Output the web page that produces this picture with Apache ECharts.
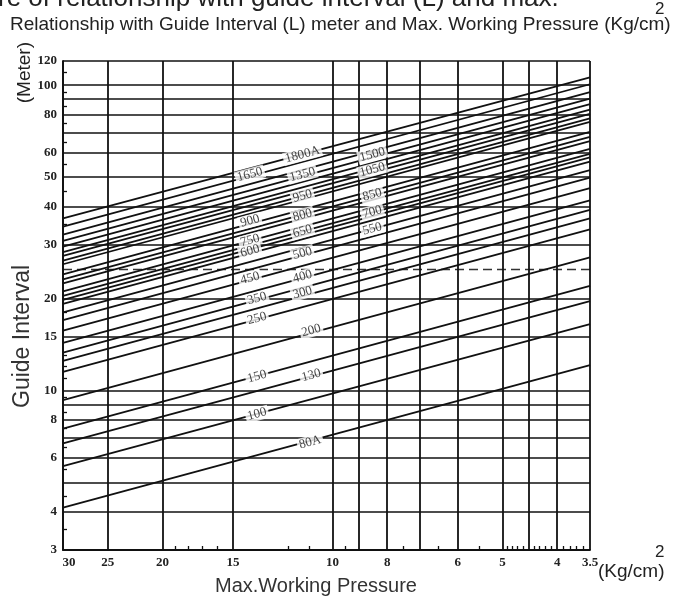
<!DOCTYPE html>
<html>
<head>
<meta charset="utf-8">
<script src="https://cdn.jsdelivr.net/npm/echarts@6/dist/echarts.min.js"></script>
<style>
html, body { margin: 0; padding: 0; background: #fff; }
#chart { width: 678px; height: 600px; }
</style>
</head>
<body>
<div id="chart"></div>
<script>
// pressure axis (Kg/cm2), drawn reversed
var pressureLabels = [30, 25, 20, 15, 10, 8, 6, 5, 4, 3.5];
var pressureGrid = [30, 25, 20, 15, 10, 9, 8, 7, 6, 5, 4.5, 4, 3.5];
var pressureMinor = [19, 18, 17, 16, 12, 11, 9.5, 7.5, 6.5, 5.5, 4.9, 4.8, 4.7, 4.6, 4.4, 4.3, 4.2, 4.1, 3.9, 3.8, 3.7, 3.6];

// guide interval axis (meter)
var lengthLabels = [3, 4, 6, 8, 10, 15, 20, 30, 40, 50, 60, 80, 100, 120];
var lengthGrid = [3, 4, 5, 6, 7, 8, 9, 10, 15, 20, 30, 40, 50, 60, 70, 80, 90, 100, 120];
var lengthDashed = [25];
var lengthMinor = [110, 95, 85, 75, 65, 55, 45, 35, 18, 13, 12, 11, 9.5, 8.5, 7.5, 6.5, 5.5, 4.5, 3.5];

// pipe sizes with guide interval (m) at 30 and at 3.5 Kg/cm2
var sizes = ['80A', '100', '130', '150', '200', '250', '300', '350', '400', '450', '500', '550', '600', '650',
  '700', '750', '800', '850', '900', '950', '1000', '1050', '1100', '1200', '1350', '1500', '1650', '1800A'];
var intervalAt30 = [4.13, 5.65, 6.7, 7.5, 9.3, 11.5, 12.5, 13.3, 14.3, 15.7, 17.0, 18.0, 19.2, 19.8,
  20.4, 21.1, 22.4, 23.1, 24.0, 25.9, 26.6, 27.6, 28.4, 29.6, 30.9, 32.4, 34.4, 36.6];
var intervalAt35 = [12.1, 16.5, 19.6, 22.0, 27.3, 33.7, 36.6, 39.0, 41.9, 46.0, 49.8, 52.7, 56.2, 58.0,
  59.6, 61.8, 65.6, 67.7, 70.3, 75.8, 77.9, 80.5, 83.1, 86.6, 90.3, 94.9, 100.7, 106.0];

// size labels written on the chart: name, pressure, interval
var tagNames = ['1800A', '1350', '950', '800', '650', '500', '400', '300', '200', '130', '80A',
  '1650', '900', '750', '600', '450', '350', '250', '150', '100',
  '1500', '1050', '850', '700', '550'];
var tagPressure = [11.3, 11.3, 11.3, 11.3, 11.3, 11.3, 11.3, 11.3, 10.9, 10.9, 10.95,
  14.0, 14.0, 14.0, 14.0, 14.0, 13.6, 13.6, 13.6, 13.6,
  8.5, 8.5, 8.5, 8.5, 8.5];
var tagInterval = [59.2, 50.9, 43.3, 37.5, 33.2, 28.1, 23.6, 20.9, 15.7, 11.2, 6.76,
  50.9, 35.9, 31.0, 28.6, 23.3, 20.0, 17.2, 11.1, 8.36,
  59.2, 52.8, 43.7, 38.4, 33.8];

var ink = '#111';
var serif = '"Liberation Serif", "DejaVu Serif", serif';
var sans = '"Liberation Sans", Arial, sans-serif';

var series = [];
sizes.forEach(function (name, i) {
  series.push({
    name: name,
    type: 'line',
    data: [[30, intervalAt30[i]], [3.5, intervalAt35[i]]],
    showSymbol: false,
    silent: true,
    lineStyle: { color: ink, width: 1.8 },
    z: 3
  });
});

series.push({
  type: 'scatter',
  data: tagNames.map(function (n, i) { return [tagPressure[i], tagInterval[i], n]; }),
  symbolSize: 1,
  itemStyle: { color: 'rgba(0,0,0,0)' },
  silent: true,
  z: 5,
  label: {
    show: true,
    position: 'inside',
    rotate: 15,
    formatter: function (p) { return p.value[2]; },
    color: ink,
    fontFamily: serif,
    fontSize: 13,
    backgroundColor: '#fff',
    padding: [0, 2]
  }
});

var tickFont = { color: '#222', fontFamily: serif, fontWeight: 'bold', fontSize: 13 };

var option = {
  animation: false,
  backgroundColor: '#fff',
  grid: { left: 63, right: 88, top: 61, bottom: 50 },
  xAxis: [{
    type: 'log',
    inverse: true,
    min: 3.5,
    max: 30,
    axisLine: { show: true, lineStyle: { color: ink, width: 1.8 } },
    axisTick: { show: false, customValues: pressureGrid },
    axisLabel: Object.assign({
      customValues: pressureLabels,
      margin: 6,
      formatter: function (v) { return v === 30 ? '{a|30}' : String(v); },
      rich: { a: Object.assign({ padding: [0, 0, 0, 12] }, tickFont) }
    }, tickFont),
    splitLine: { show: true, lineStyle: { color: ink, width: 1.8 } }
  }, {
    type: 'log',
    inverse: true,
    min: 3.5,
    max: 30,
    position: 'bottom',
    axisLine: { show: false },
    axisTick: { show: true, inside: true, length: 4, customValues: pressureMinor, lineStyle: { color: ink, width: 1.3 } },
    axisLabel: { show: false },
    splitLine: { show: false }
  }],
  yAxis: [{
    type: 'log',
    min: 3,
    max: 120,
    axisLine: { show: true, lineStyle: { color: ink, width: 1.8 } },
    axisTick: { show: false, customValues: lengthGrid },
    axisLabel: Object.assign({ customValues: lengthLabels, margin: 6 }, tickFont),
    splitLine: { show: true, lineStyle: { color: ink, width: 1.7 } }
  }, {
    type: 'log',
    min: 3,
    max: 120,
    position: 'left',
    axisLine: { show: false },
    axisTick: { show: true, inside: true, length: 4, customValues: lengthMinor, lineStyle: { color: ink, width: 1.3 } },
    axisLabel: { show: false },
    splitLine: { show: false }
  }, {
    type: 'log',
    min: 3,
    max: 120,
    position: 'left',
    axisLine: { show: false },
    axisTick: { show: false, customValues: lengthDashed },
    axisLabel: { show: false },
    splitLine: { show: true, lineStyle: { color: '#333', width: 1.4, type: [9, 5] } }
  }],
  graphic: [
    { type: 'text', left: -2, top: -14, style: { text: 're of relationship with guide interval (L) and max.', font: '26px ' + sans, fill: '#222' } },
    { type: 'text', left: 10, top: 15, style: { text: 'Relationship with Guide Interval (L) meter and Max. Working Pressure (Kg/cm)', font: '19px ' + sans, fill: '#222' } },
    { type: 'text', left: 655, top: 1, style: { text: '2', font: '17px ' + sans, fill: '#222' } },
    { type: 'text', left: 15, top: 42, rotation: Math.PI / 2, style: { text: '(Meter)', font: '19px ' + sans, fill: '#222' } },
    { type: 'text', x: 11, y: 408, rotation: Math.PI / 2, style: { text: 'Guide Interval', font: '23px ' + sans, fill: '#333' } },
    { type: 'text', left: 215, top: 576, style: { text: 'Max.Working Pressure', font: '20px ' + sans, fill: '#333' } },
    { type: 'text', left: 598, top: 562, style: { text: '(Kg/cm)', font: '19px ' + sans, fill: '#222' } },
    { type: 'text', left: 655, top: 544, style: { text: '2', font: '17px ' + sans, fill: '#222' } }
  ],
  series: series
};

var chart = echarts.init(document.getElementById('chart'), null, { renderer: 'canvas' });
chart.setOption(option);
</script>
</body>
</html>
